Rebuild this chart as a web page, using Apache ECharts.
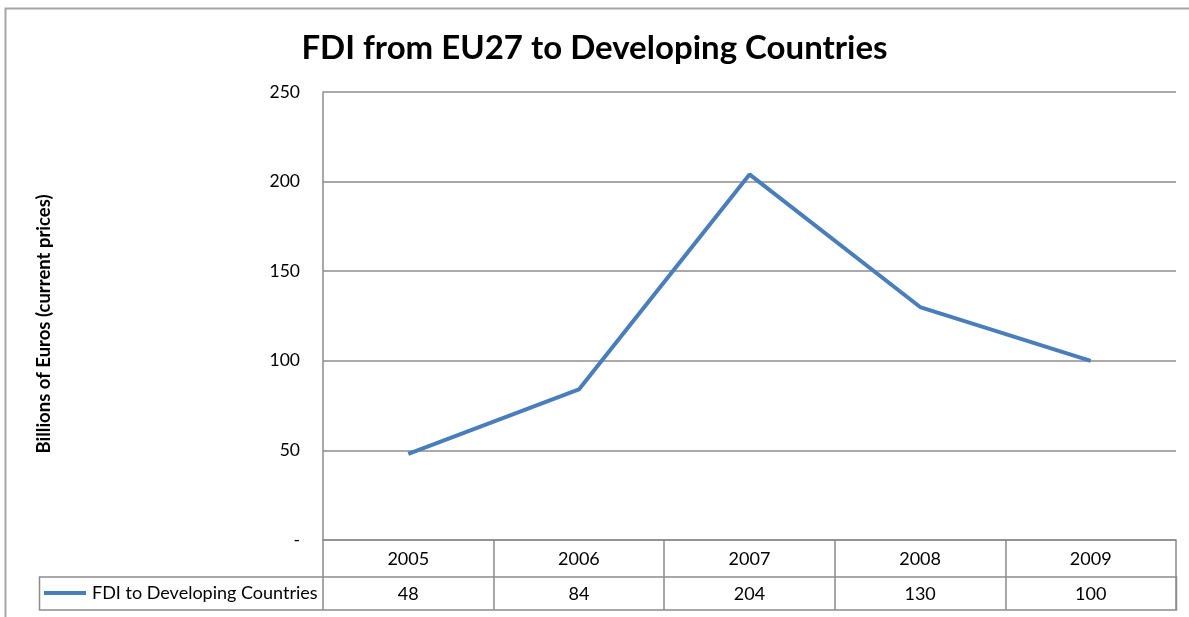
<!DOCTYPE html>
<html>
<head>
<meta charset="utf-8">
<script src="https://cdn.jsdelivr.net/npm/echarts@6/dist/echarts.min.js"></script>
<style>
  html, body { margin: 0; padding: 0; background: #fff; }
  #chart { width: 1189px; height: 617px; }
</style>
</head>
<body>
<div id="chart"></div>
<script>
// data
const years = ['2005', '2006', '2007', '2008', '2009'];
const fdiValues = [48, 84, 204, 130, 100];
const seriesName = 'FDI to Developing Countries';
const yTicks = { min: 0, max: 250, step: 50 };

const chart = echarts.init(document.getElementById('chart'));

const fontFamily = 'Lato, "Open Sans", sans-serif';
const gridColor = '#8c8c8c';
const lineColor = '#4a7ebb';

const option = {
  backgroundColor: '#ffffff',
  animation: false,
  textStyle: { fontFamily: fontFamily, color: '#000' },
  title: {
    text: 'FDI from EU27 to Developing Countries',
    left: 'center',
    top: 27,
    textStyle: { fontSize: 33, fontWeight: 'bold', color: '#000', fontFamily: fontFamily }
  },
  grid: { left: 323, right: 13, top: 92, bottom: 77 },
  legend: {
    left: 44,
    top: 584,
    padding: 0,
    itemWidth: 42,
    itemHeight: 14,
    itemGap: 6,
    textStyle: { fontSize: 18, color: '#000', fontFamily: fontFamily, padding: [0, 0, 0, 1] },
    data: [{ name: seriesName, icon: 'path://M0,6H42V10H0Z', itemStyle: { color: lineColor } }]
  },
  xAxis: [
    {
      type: 'category',
      data: years,
      boundaryGap: true,
      axisLine: { show: true, lineStyle: { color: gridColor, width: 1.5 } },
      axisTick: { show: true, length: 37, lineStyle: { color: gridColor, width: 1.5 } },
      axisLabel: { fontSize: 18, color: '#000', margin: 10 }
    },
    {
      type: 'category',
      position: 'bottom',
      offset: 37,
      data: fdiValues.map(String),
      boundaryGap: true,
      axisLine: { show: false },
      axisTick: { show: true, length: 33, lineStyle: { color: gridColor, width: 1.5 } },
      axisLabel: { fontSize: 18, color: '#000', margin: 8 }
    }
  ],
  yAxis: {
    type: 'value',
    min: yTicks.min,
    max: yTicks.max,
    interval: yTicks.step,
    name: 'Billions of Euros (current prices)',
    nameLocation: 'middle',
    nameGap: 269,
    nameRotate: 90,
    nameTextStyle: {
      fontSize: 18.5,
      fontWeight: 'bold',
      color: '#000',
      fontFamily: fontFamily,
      padding: [0, 16, 0, 0]
    },
    axisLine: { show: true, lineStyle: { color: gridColor, width: 1.5 } },
    axisTick: { show: false },
    axisLabel: {
      fontSize: 17.5,
      color: '#000',
      margin: 23,
      formatter: v => (v === 0 ? '-' : String(v))
    },
    splitLine: { show: true, lineStyle: { color: gridColor, width: 1.5 } }
  },
  series: [
    {
      name: seriesName,
      type: 'line',
      data: fdiValues,
      symbol: 'none',
      lineStyle: { color: lineColor, width: 4 },
      itemStyle: { color: lineColor }
    }
  ],
  graphic: [
    {
      // outer chart border
      type: 'rect',
      shape: { x: 5.5, y: 8.5, width: 1200, height: 700 },
      style: { fill: 'none', stroke: '#a6a6a6', lineWidth: 2 },
      silent: true
    },
    {
      // data table second row (legend + values)
      type: 'rect',
      shape: { x: 39.5, y: 577, width: 1137, height: 33 },
      style: { fill: 'none', stroke: gridColor, lineWidth: 1.5 },
      silent: true
    }
  ]
};

chart.setOption(option);
</script>
</body>
</html>
